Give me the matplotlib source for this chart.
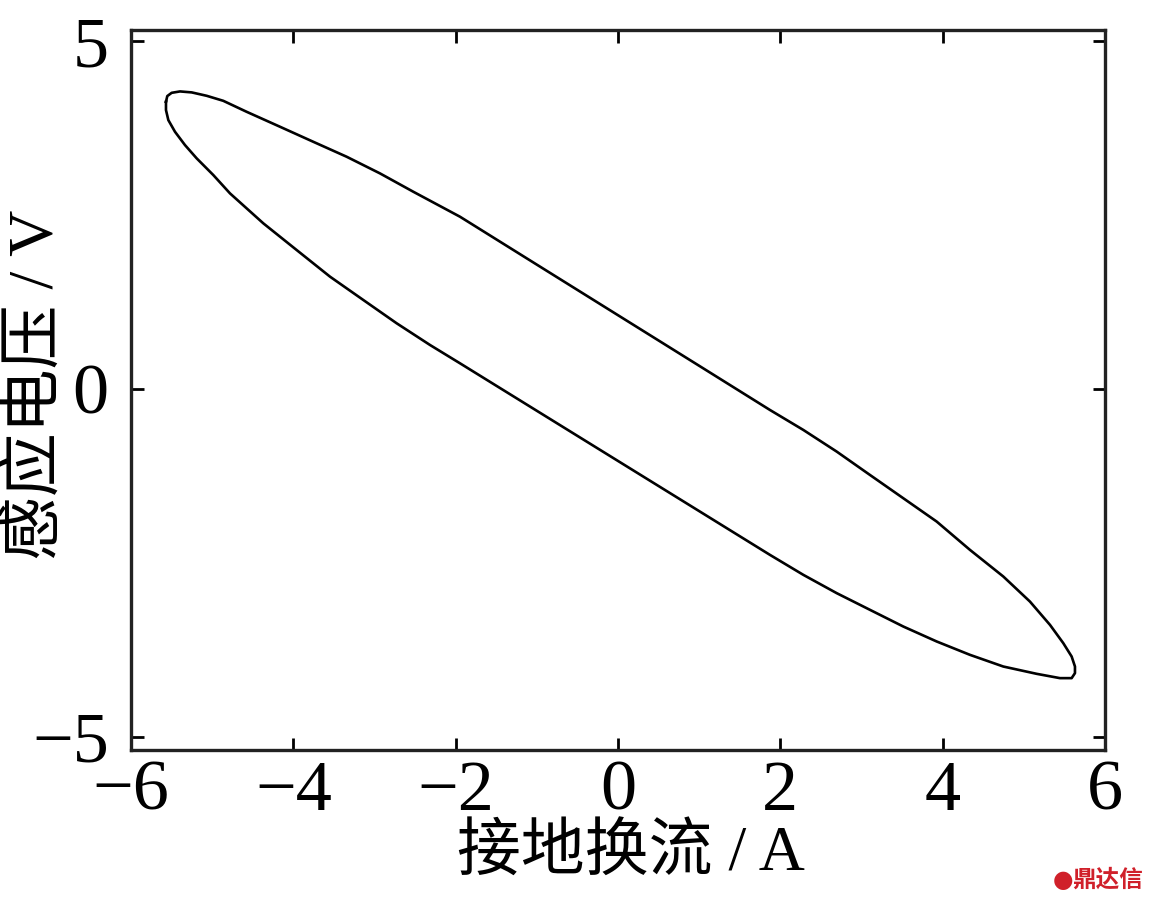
import matplotlib
matplotlib.use("Agg")
import matplotlib.pyplot as plt

# Curve points (clockwise, starting at left tip)
current_A = [
    -5.569, -5.553, -5.499, -5.396, -5.252, -5.067, -4.863, -4.575, -4.164,
    -3.754, -3.343, -2.933, -2.522, -1.947, -1.0, 0.0, 1.0, 1.872, 2.283,
    2.694, 3.104, 3.515, 3.926, 4.336, 4.747, 5.075, 5.322, 5.486, 5.589,
    5.630, 5.630, 5.589, 5.445, 5.158, 4.747, 4.336, 3.926, 3.515, 3.104,
    2.694, 2.283, 1.872, 1.0, 0.0, -1.0, -1.947, -2.316, -2.727, -3.138,
    -3.548, -3.959, -4.370, -4.780, -4.986, -5.191, -5.335, -5.458, -5.540,
    -5.569, -5.569,
]
voltage_V = [
    4.128, 4.210, 4.257, 4.277, 4.263, 4.214, 4.142, 3.984, 3.769,
    3.553, 3.338, 3.099, 2.835, 2.476, 1.787, 1.060, 0.333, -0.302, -0.589,
    -0.900, -1.236, -1.571, -1.906, -2.313, -2.696, -3.056, -3.391, -3.654, -3.846,
    -3.990, -4.085, -4.157, -4.157, -4.095, -3.990, -3.822, -3.630, -3.415, -3.175,
    -2.935, -2.672, -2.385, -1.756, -1.035, -0.314, 0.369, 0.632, 0.944, 1.279,
    1.614, 1.997, 2.381, 2.811, 3.075, 3.315, 3.506, 3.697, 3.865,
    4.009, 4.128,
]
x_ticks = [-6, -4, -2, 0, 2, 4, 6]
y_ticks = [-5, 0, 5]
x_label = "接地换流 / A"
y_label = "感应电压 / V"
watermark = "鼎达信"

fam = ["Liberation Serif", "Noto Sans CJK SC", "DejaVu Sans"]
plt.rcParams["font.family"] = fam

fig = plt.figure(figsize=(11.53, 9.02), dpi=100)
ax = fig.add_axes([131 / 1153, 1 - 750 / 902, (1105 - 131) / 1153, (750 - 30) / 902])

ax.plot(current_A, voltage_V, color="black", lw=1.9, solid_joinstyle="round")

ax.set_xlim(-6, 6)
ax.set_ylim(-5.19, 5.16)
ax.set_xticks(x_ticks)
ax.set_yticks(y_ticks)
ax.tick_params(direction="in", length=9, width=2, top=True, right=True,
               labelsize=52, pad=16, colors="black")
ax.tick_params(axis="x", pad=7)
for s in ax.spines.values():
    s.set_linewidth(2.4)
    s.set_color("#222222")

fig.text(631 / 1153, 1 - 855 / 902, x_label, fontsize=46, ha="center", va="center")
fig.text(37 / 1153, 1 - 385 / 902, y_label, fontsize=46, ha="center", va="center",
         rotation=90)

fig.text(1143 / 1153, 1 - 880 / 902, watermark, color="#d0202a", fontsize=17,
         fontweight="bold", ha="right", va="center",
         family=["Noto Sans CJK SC", "DejaVu Sans"])
fig.text(1063 / 1153, 1 - 880 / 902, "\u25CF", color="#d0202a", fontsize=17,
         ha="center", va="center", family=["DejaVu Sans"])

fig.savefig("out.png", dpi=100)
